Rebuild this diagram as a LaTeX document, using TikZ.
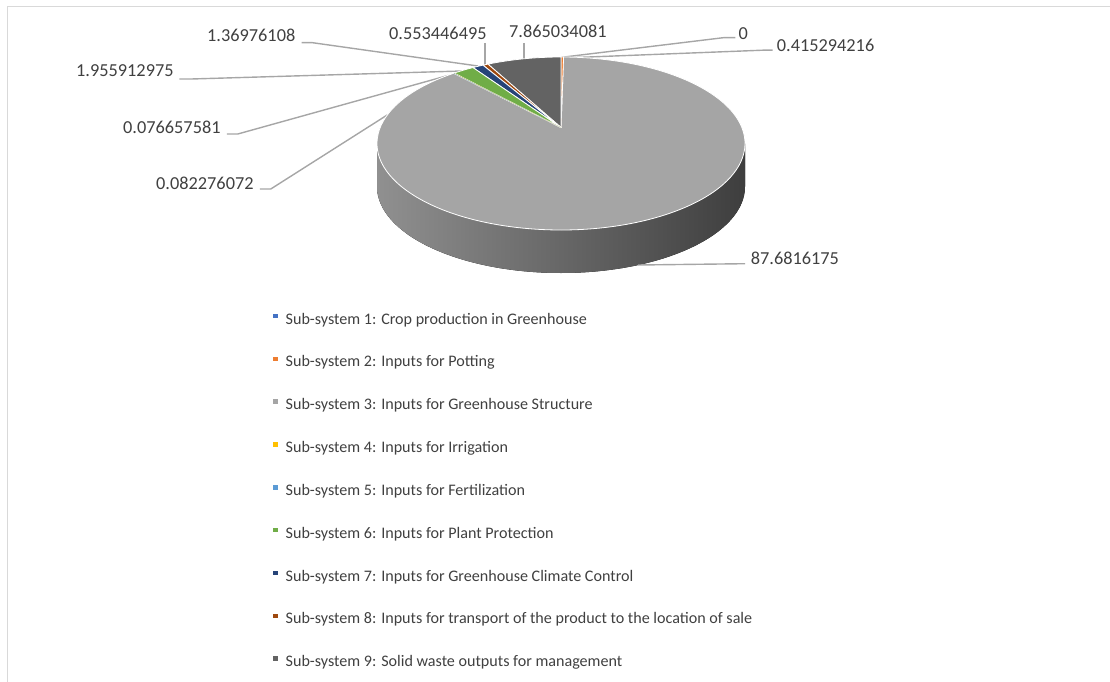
\documentclass[tikz,border=0pt]{standalone}
\usepackage{fontspec}
\setmainfont{Carlito}
\usetikzlibrary{calc}

\definecolor{txt}{HTML}{404040}
\definecolor{frame}{HTML}{D9D9D9}
\definecolor{leadc}{HTML}{A6A6A6}
\definecolor{cA}{HTML}{4472C4}
\definecolor{cB}{HTML}{ED7D31}
\definecolor{cC}{HTML}{A5A5A5}
\definecolor{cD}{HTML}{FFC000}
\definecolor{cE}{HTML}{5B9BD5}
\definecolor{cF}{HTML}{70AD47}
\definecolor{cG}{HTML}{264478}
\definecolor{cH}{HTML}{9E480E}
\definecolor{cI}{HTML}{636363}
\definecolor{sideL}{HTML}{909090}
\definecolor{sideM}{HTML}{666666}
\definecolor{sideR}{HTML}{3E3E3E}

\tikzset{
  lbl/.style={font=\fontsize{18.3}{22}\selectfont, text=txt, inner sep=0pt, anchor=base west},
  legtxt/.style={font=\fontsize{16.1}{20}\selectfont, text=txt, inner sep=0pt, anchor=base west},
  leader/.style={draw=leadc, line width=1.4pt},
  slice/.style={fill=#1, draw=white, line width=0.8pt, line join=round},
  legkey/.style={fill=#1, minimum size=4.5pt, inner sep=0pt, draw=none}
}

% top face of the pie: ellipse radii
\def\rx{184}
\def\ry{86.5}

\begin{document}
\begin{tikzpicture}[x=1pt,y=1pt]
\useasboundingbox (0,0) rectangle (1110,-682);

% chart frame (top and left edges)
\draw[frame, line width=1.5pt] (7.5,-682) -- (7.5,-6.5) -- (1110,-6.5);

% centre of the top ellipse and apex of the slices
\coordinate (C) at (561,-143.5);
\coordinate (A) at (561,-127.5);

% data labels
\node[lbl] (l7) at (207,-41.7) {1.36976108};
\node[lbl] (l6) at (76,-76.7) {1.955912975};
\node[lbl] (l4) at (123,-134) {0.076657581};
\node[lbl] (l5) at (156,-189) {0.082276072};
\node[lbl] (l8) at (389,-40) {0.553446495};
\node[lbl] (l9) at (509,-37.7) {7.865034081};
\node[lbl] (l1) at (738.3,-39.3) {0};
\node[lbl] (l2) at (776.7,-51.7) {0.415294216};
\node[lbl] (l3) at (750.7,-264) {87.6816175};

% slice anchor points for the leader lines
\coordinate (p7) at (478,-66);
\coordinate (p6) at (462,-71);
\coordinate (p4) at (448,-75.5);
\coordinate (p5) at (388,-114.5);
\coordinate (p8) at (485,-65);
\coordinate (p9) at (524,-59);
\coordinate (p1) at (561.7,-57.3);
\coordinate (p2) at (563,-58);
\coordinate (p3) at (638,-265);

% leader lines (drawn before the pie so the pie hides their ends)
\draw[leader] ([xshift=6pt,yshift=-1pt]l7.base east) -- ++(11,0) -- (p7);
\draw[leader] ([xshift=5.5pt,yshift=-2.3pt]l6.base east) -- ++(12,0) -- (p6);
\draw[leader] ([xshift=6pt]l4.base east) -- ++(11,0) -- (p4);
\draw[leader] ([xshift=6pt]l5.base east) -- ++(11,0) -- (p5);
\draw[leader] (485,-43) -- (p8);
\draw[leader] (524,-43) -- (p9);
\draw[leader] ([xshift=-3pt,yshift=1.6pt]l1.base west) -- ++(-12,0) -- (p1);
\draw[leader] ([xshift=-4pt,yshift=1.5pt]l2.base west) -- ++(-10,0) -- (p2);

% side of the pie (front half)
\fill[left color=sideL, middle color=sideM, right color=sideR]
  ($(C)+(180:\rx pt and \ry pt)$) arc[start angle=180, end angle=360, x radius=\rx, y radius=\ry]
  -- ++(0,-43) arc[start angle=0, end angle=-180, x radius=\rx, y radius=\ry] -- cycle;
\draw[leader] (l3.base west) ++(-5.5pt,0.3pt) -- (p3);

% top face slices
\filldraw[slice=cC] (A) -- ($(C)+(125.7:\rx pt and \ry pt)$)
  arc[start angle=125.7, end angle=449.2, x radius=\rx, y radius=\ry] -- cycle;
\filldraw[slice=cB] (A) -- ($(C)+(89.2:\rx pt and \ry pt)$)
  arc[start angle=89.2, end angle=90, x radius=\rx, y radius=\ry] -- cycle;
\filldraw[slice=cI] (A) -- ($(C)+(90:\rx pt and \ry pt)$)
  arc[start angle=90, end angle=113.4, x radius=\rx, y radius=\ry] -- cycle;
\filldraw[slice=cH] (A) -- ($(C)+(113.4:\rx pt and \ry pt)$)
  arc[start angle=113.4, end angle=115.1, x radius=\rx, y radius=\ry] -- cycle;
\filldraw[slice=cG] (A) -- ($(C)+(115.1:\rx pt and \ry pt)$)
  arc[start angle=115.1, end angle=118.6, x radius=\rx, y radius=\ry] -- cycle;
\filldraw[slice=cF] (A) -- ($(C)+(118.6:\rx pt and \ry pt)$)
  arc[start angle=118.6, end angle=125.5, x radius=\rx, y radius=\ry] -- cycle;
\fill[cD] (A) -- ($(C)+(125.5:\rx pt and \ry pt)$)
  arc[start angle=125.5, end angle=125.6, x radius=\rx, y radius=\ry] -- cycle;
\fill[cE] (A) -- ($(C)+(125.6:\rx pt and \ry pt)$)
  arc[start angle=125.6, end angle=125.7, x radius=\rx, y radius=\ry] -- cycle;

% legend
\foreach \i/\c/\t in {
  1/cA/{Sub-system 1: Crop production in Greenhouse},
  2/cB/{Sub-system 2: Inputs for Potting},
  3/cC/{Sub-system 3: Inputs for Greenhouse Structure},
  4/cD/{Sub-system 4: Inputs for Irrigation},
  5/cE/{Sub-system 5: Inputs for Fertilization},
  6/cF/{Sub-system 6: Inputs for Plant Protection},
  7/cG/{Sub-system 7: Inputs for Greenhouse Climate Control},
  8/cH/{Sub-system 8: Inputs for transport of the product to the location of sale},
  9/cI/{Sub-system 9: Solid waste outputs for management}} {
  \node[legkey=\c] (k\i) at (275.5,{-(316+(\i-1)*42.84)}) {};
  \node[legtxt] (t\i) at (285.5,{-(324+(\i-1)*42.84)}) {\t};
}
\end{tikzpicture}
\end{document}
